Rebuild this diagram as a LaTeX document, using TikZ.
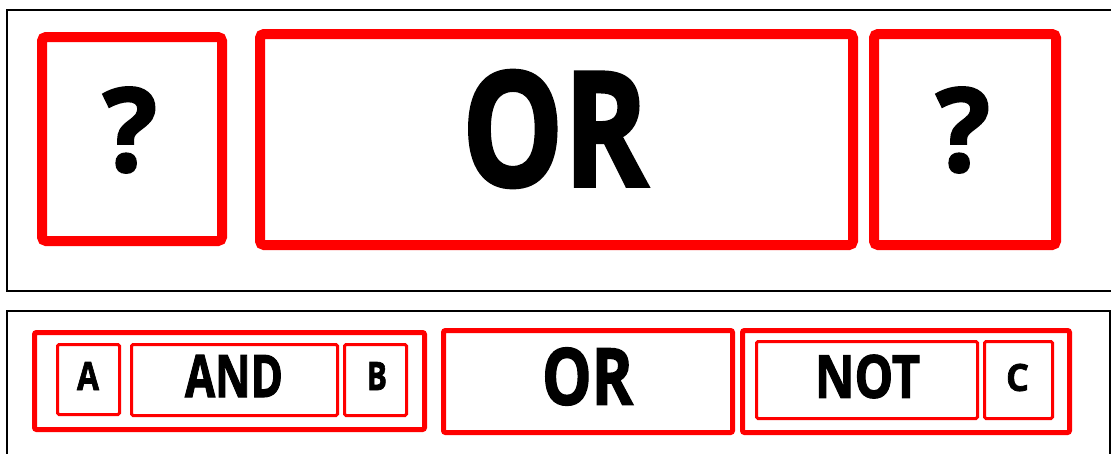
\documentclass[tikz,border=0pt]{standalone}
\usepackage{fontspec}
\setmainfont{Open Sans}[BoldFeatures={FakeBold=2}]
\usepackage{graphicx}
\newcommand{\fitlabel}[3]{\resizebox{#1pt}{#2pt}{\bfseries #3}}
\tikzset{
  panel/.style={draw=black, line width=1.5pt},
  bigbox/.style={draw=red, line width=10pt, rounded corners=4pt, rectangle, inner sep=0pt},
  midbox/.style={draw=red, line width=5pt, rounded corners=2pt, rectangle, inner sep=0pt},
  smallbox/.style={draw=red, line width=3pt, rounded corners=1.5pt, rectangle, inner sep=0pt},
  lbl/.style={inner sep=0pt, text=black}
}
\begin{document}
\begin{tikzpicture}[x=1pt,y=-1pt]
\useasboundingbox (0,0) rectangle (1111,453);
\clip (0,0) rectangle (1111,453);
\fill[white] (0,0) rectangle (1111,453);
% panels
\draw[panel] (7,10) rectangle (1120,291);
\draw[panel] (7,311) rectangle (1110,470);
% top row
\node[bigbox, minimum width=180pt, minimum height=204pt] (q1) at (132,139) {};
\node[bigbox, minimum width=593pt, minimum height=211pt] (or1) at (556.5,139.5) {};
\node[bigbox, minimum width=182pt, minimum height=211pt] (q2) at (965,139.5) {};
\node[lbl] (tq1) at (130,130) {\fitlabel{54}{84}{?}};
\node[lbl] (tor1) at (555,129) {\fitlabel{186}{116}{OR}};
\node[lbl] (tq2) at (963,130) {\fitlabel{54}{84}{?}};
% bottom row
\node[midbox, minimum width=390pt, minimum height=97pt] (andg) at (229.5,381) {};
\node[smallbox, minimum width=62pt, minimum height=70pt] (a) at (88.5,379.5) {};
\node[smallbox, minimum width=206pt, minimum height=71pt] (and) at (234.5,380) {};
\node[smallbox, minimum width=62pt, minimum height=71pt] (b) at (375.5,380) {};
\node[lbl] (ta) at (88,376) {\fitlabel{22}{28}{A}};
\node[lbl] (tand) at (234,376) {\fitlabel{98}{42}{AND}};
\node[lbl] (tb) at (377,376) {\fitlabel{20}{28}{B}};
\node[midbox, minimum width=289pt, minimum height=102pt] (or2) at (588,381.5) {};
\node[lbl] (tor2) at (587.5,376.5) {\fitlabel{91}{57}{OR}};
\node[midbox, minimum width=327pt, minimum height=102pt] (notg) at (906,381.5) {};
\node[smallbox, minimum width=221pt, minimum height=77pt] (not) at (867,380) {};
\node[smallbox, minimum width=68pt, minimum height=77pt] (c) at (1018.5,380) {};
\node[lbl] (tnot) at (867.5,376.5) {\fitlabel{105}{43}{NOT}};
\node[lbl] (tc) at (1017.5,377.5) {\fitlabel{23}{27}{C}};
\end{tikzpicture}
\end{document}
